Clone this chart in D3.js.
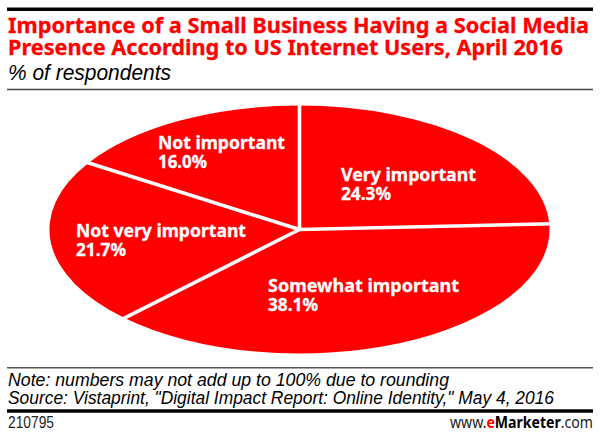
<!DOCTYPE html>
<html>
<head>
<meta charset="utf-8">
<script src="https://cdn.jsdelivr.net/npm/d3@7"></script>
<style>
body { margin: 0; background: #fff; }
text { font-family: "Noto Sans", sans-serif; }
text.light { font-family: "Liberation Sans", sans-serif; }
</style>
</head>
<body>
<div id="chart"></div>
<script>
var categories = ["Very important", "Somewhat important", "Not very important", "Not important"];
var values = [24.3, 38.1, 21.7, 16.0];
var titleLines = ["Importance of a Small Business Having a Social Media", "Presence According to US Internet Users, April 2016"];
var subtitle = "% of respondents";
var notes = ["Note: numbers may not add up to 100% due to rounding", "Source: Vistaprint, \"Digital Impact Report: Online Identity,\" May 4, 2016"];
var chartId = "210795";

// layout only, not data
var labelPos = [[341, 181], [268, 292], [76, 237], [158, 149]];
var labelWidth = [135, 191, 170, 127];
var pctWidth = [50, 50, 50, 49];
var titleWidth = [581, 555];
var noteWidth = [441, 546];

var width = 600, height = 439;
var svg = d3.select("#chart").append("svg")
  .attr("width", width)
  .attr("height", height)
  .style("display", "block");

var red = "#ff0000";

// draws a horizontal rule across the chart
var rule = function(y, thickness, color) {
  svg.append("line")
    .attr("x1", 7).attr("x2", 593)
    .attr("y1", y).attr("y2", y)
    .attr("stroke", color)
    .attr("stroke-width", thickness);
};

rule(9.2, 3.6, "#000");
rule(89.4, 1.5, "#444");
rule(367.7, 1.5, "#555");
rule(411, 3.4, "#000");

// title
svg.selectAll(".title").data(titleLines).enter().append("text")
  .attr("class", "title")
  .attr("x", 8)
  .attr("y", function(d, i) { return 33 + i * 22; })
  .attr("font-size", 22)
  .attr("font-weight", "bold")
  .attr("textLength", function(d, i) { return titleWidth[i]; })
  .attr("lengthAdjust", "spacingAndGlyphs")
  .attr("fill", red)
  .attr("stroke", red)
  .attr("stroke-width", 0.3)
  .text(function(d) { return d; });

svg.append("text")
  .attr("class", "light")
  .attr("x", 8).attr("y", 80)
  .attr("font-size", 22)
  .attr("font-style", "italic")
  .attr("textLength", 163)
  .attr("lengthAdjust", "spacingAndGlyphs")
  .attr("fill", "#000")
  .text(subtitle);

// pie, x and y scales turn the unit circle into the ellipse
var xScale = d3.scaleLinear().domain([-1, 1]).range([49.5, 549.5]);
var yScale = d3.scaleLinear().domain([-1, 1]).range([105.5, 353.5]);

var pie = d3.pie().sort(null).value(function(d) { return d; });
var arc = d3.arc().innerRadius(0).outerRadius(1);
var slices = pie(values);

var pieG = svg.append("g")
  .attr("transform", "translate(" + xScale(0) + "," + yScale(0) + ") scale(" + (xScale(1) - xScale(0)) + "," + (yScale(1) - yScale(0)) + ")");

pieG.selectAll("path").data(slices).enter().append("path")
  .attr("d", arc)
  .attr("fill", red);

// white separators, only between the slices and not round the edge
svg.selectAll(".sep").data(slices).enter().append("line")
  .attr("class", "sep")
  .attr("x1", xScale(0))
  .attr("y1", yScale(0))
  .attr("x2", function(d) { return xScale(Math.sin(d.startAngle) * 1.01); })
  .attr("y2", function(d) { return yScale(-Math.cos(d.startAngle) * 1.01); })
  .attr("stroke", "#fff")
  .attr("stroke-width", 3.6);

// labels
categories.forEach(function(c, i) {
  var x = labelPos[i][0], y = labelPos[i][1];
  var g = svg.append("g")
    .attr("fill", "#fff")
    .attr("stroke", "#fff")
    .attr("stroke-width", 0.3)
    .attr("font-size", 17.5)
    .attr("font-weight", "bold");
  g.append("text").attr("x", x).attr("y", y)
    .attr("textLength", labelWidth[i])
    .attr("lengthAdjust", "spacingAndGlyphs")
    .text(c);
  g.append("text").attr("x", x).attr("y", y + 19)
    .attr("textLength", pctWidth[i])
    .attr("lengthAdjust", "spacingAndGlyphs")
    .text(values[i].toFixed(1) + "%");
});

// footer
svg.selectAll(".note").data(notes).enter().append("text")
  .attr("class", "note light")
  .attr("x", 8)
  .attr("y", function(d, i) { return 386 + i * 18; })
  .attr("font-size", 18)
  .attr("font-style", "italic")
  .attr("textLength", function(d, i) { return noteWidth[i]; })
  .attr("lengthAdjust", "spacingAndGlyphs")
  .attr("fill", "#000")
  .text(function(d) { return d; });

svg.append("text")
  .attr("class", "light")
  .attr("x", 8).attr("y", 428)
  .attr("font-size", 16)
  .attr("textLength", 46)
  .attr("lengthAdjust", "spacingAndGlyphs")
  .attr("fill", "#222")
  .text(chartId);

var brand = svg.append("text")
  .attr("x", 450).attr("y", 428)
  .attr("font-size", 16)
  .attr("textLength", 143)
  .attr("lengthAdjust", "spacingAndGlyphs")
  .attr("fill", "#222");
brand.append("tspan").text("www.");
brand.append("tspan").attr("font-weight", "bold").attr("fill", red).text("e");
brand.append("tspan").attr("font-weight", "bold").attr("fill", "#000").text("Marketer");
brand.append("tspan").text(".com");
</script>
</body>
</html>
